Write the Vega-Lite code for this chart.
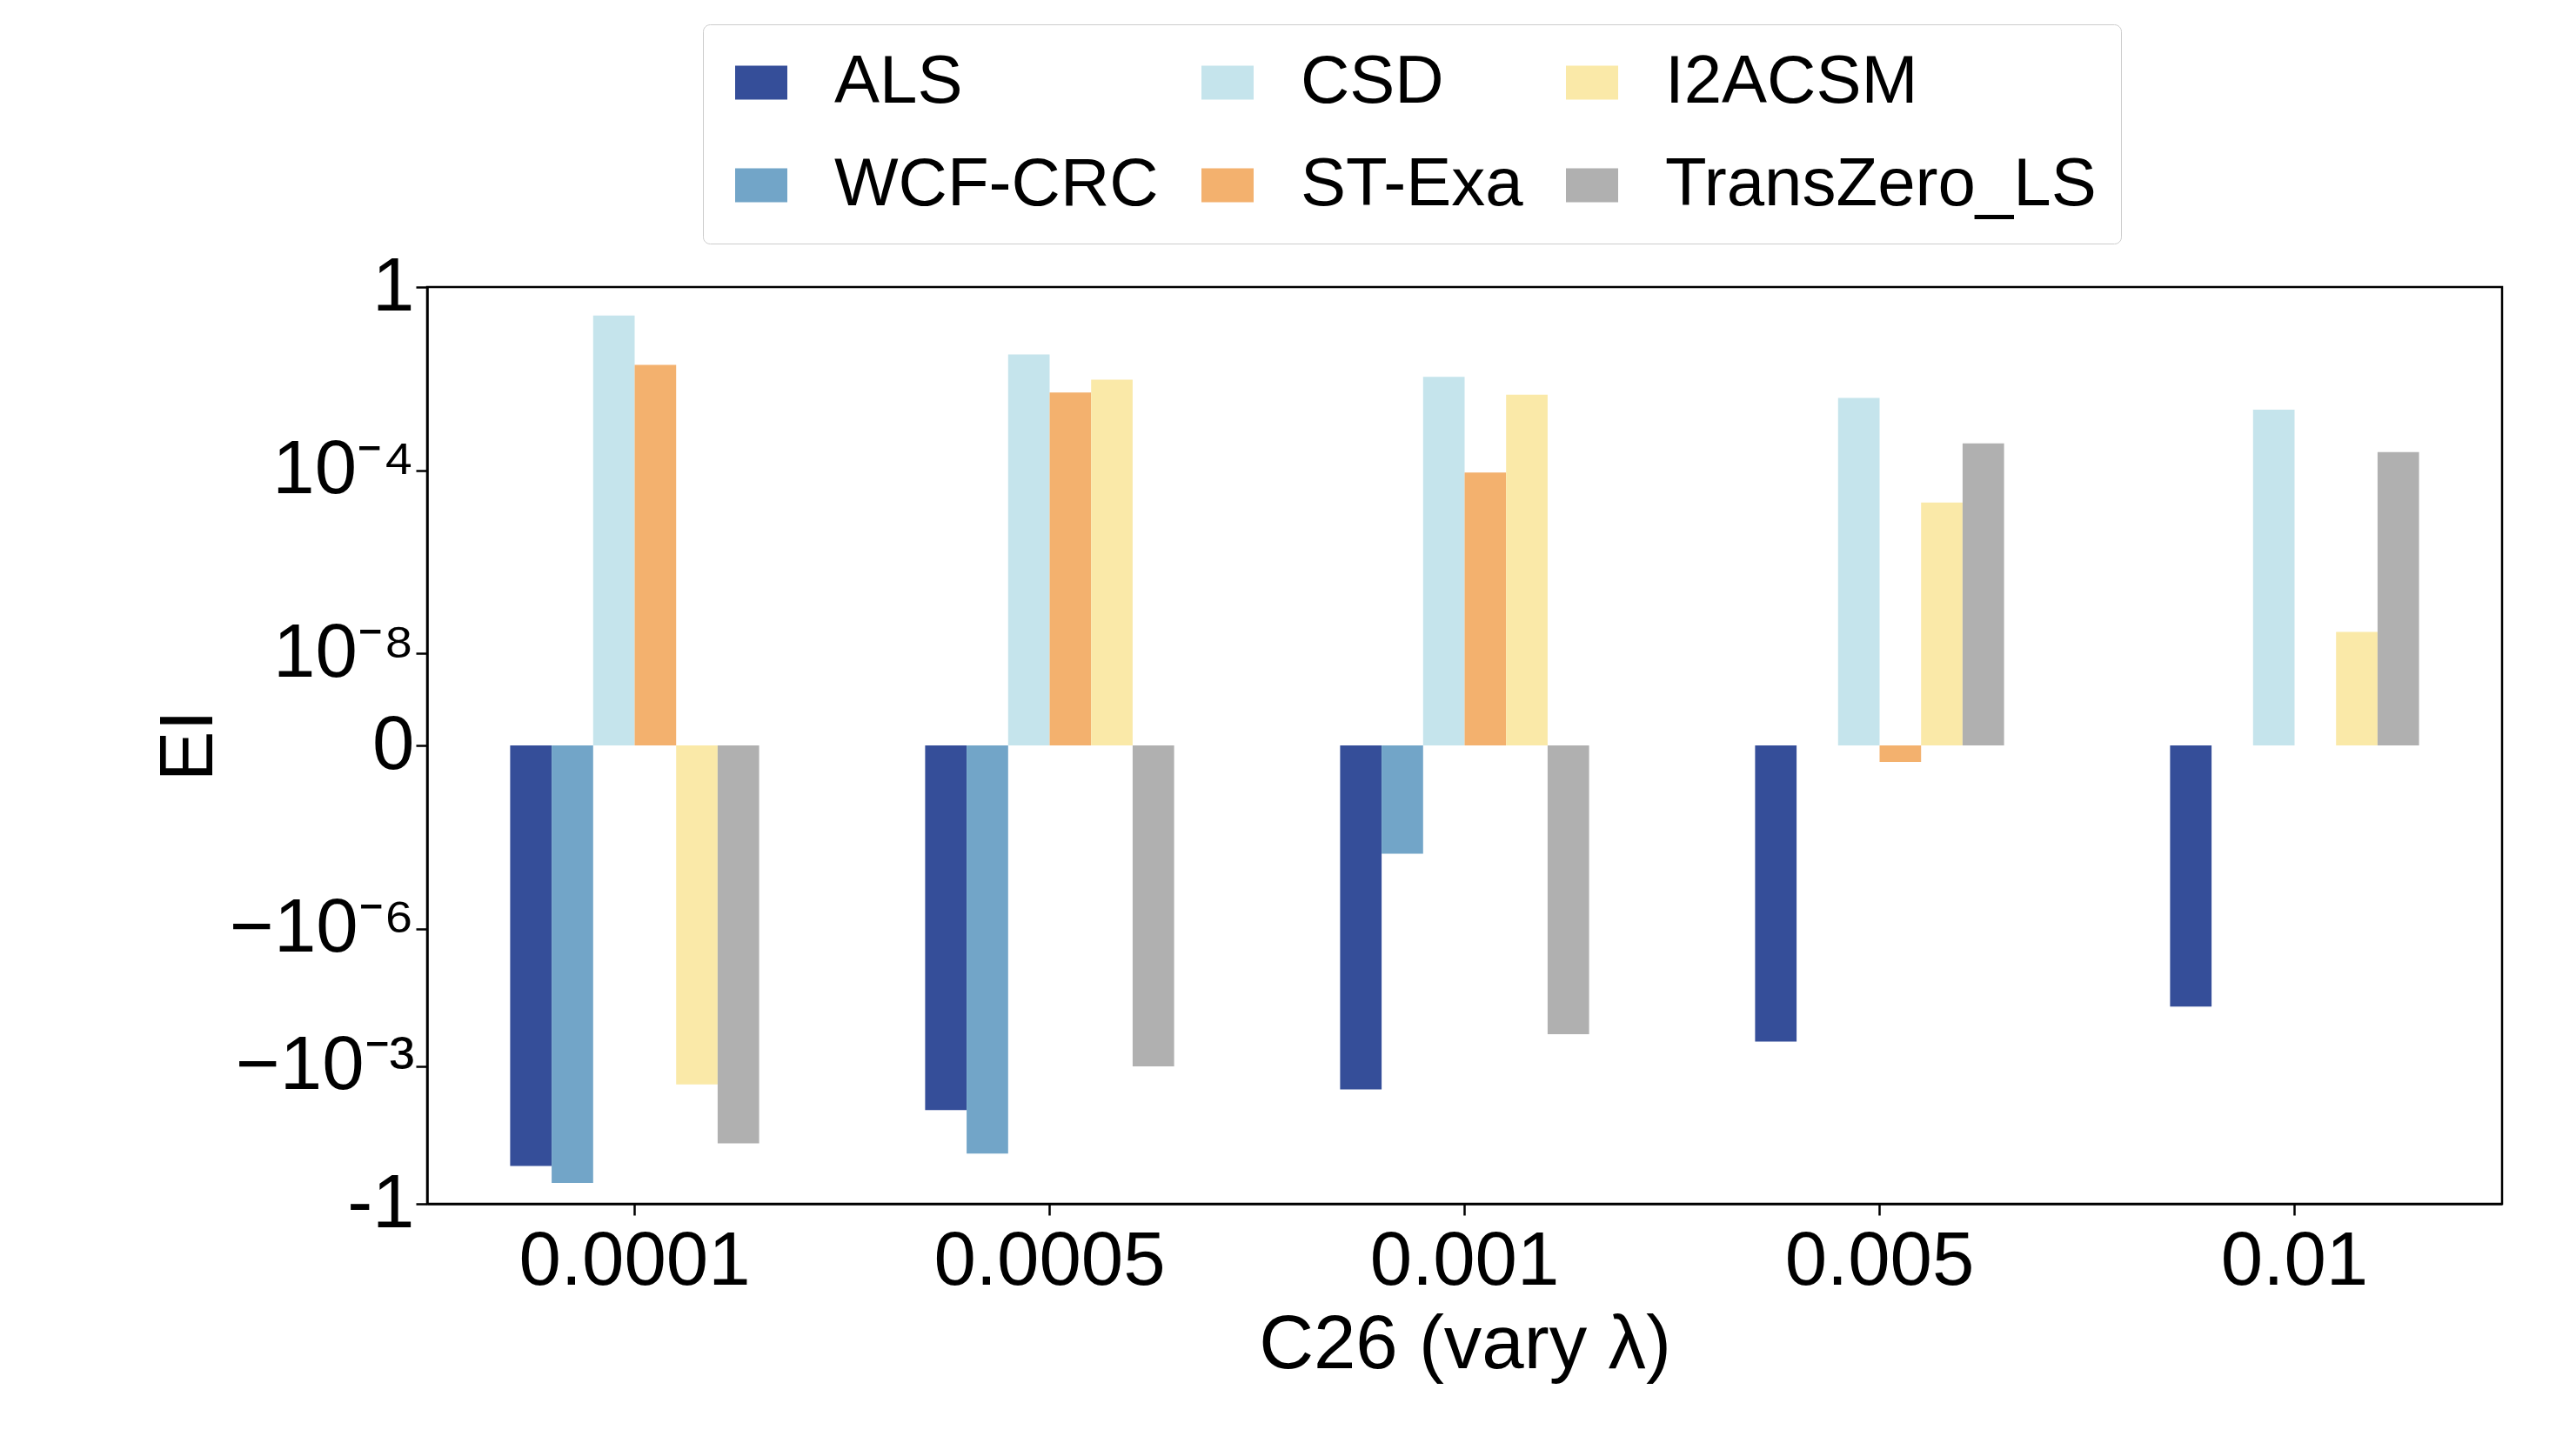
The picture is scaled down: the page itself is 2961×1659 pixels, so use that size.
{
  "$schema": "https://vega.github.io/schema/vega-lite/v6.json",
  "autosize": {"type": "none"},
  "padding": {"left": 491, "top": 330, "right": 85, "bottom": 275},
  "width": 2385,
  "height": 1054,
  "config": {
    "font": "Liberation Sans",
    "view": {"stroke": "black", "strokeWidth": 2.5},
    "axis": {"grid": false, "labelLimit": 0, "domainColor": "black", "domainWidth": 2.5, "tickColor": "black", "tickWidth": 2.5, "tickSize": 13, "labelFontSize": 87, "titleFontSize": 87, "labelColor": "black", "titleColor": "black", "titleFontWeight": "normal"}
  },
  "data": {
    "values": [
      {"lambda": "0.0001", "method": "ALS", "ei": -0.15},
      {"lambda": "0.0001", "method": "WCF-CRC", "ei": -0.35},
      {"lambda": "0.0001", "method": "CSD", "ei": 0.24},
      {"lambda": "0.0001", "method": "ST-Exa", "ei": 0.02},
      {"lambda": "0.0001", "method": "I2ACSM", "ei": -0.0025},
      {"lambda": "0.0001", "method": "TransZero_LS", "ei": -0.048},
      {"lambda": "0.0005", "method": "ALS", "ei": -0.009},
      {"lambda": "0.0005", "method": "WCF-CRC", "ei": -0.08},
      {"lambda": "0.0005", "method": "CSD", "ei": 0.034},
      {"lambda": "0.0005", "method": "ST-Exa", "ei": 0.005},
      {"lambda": "0.0005", "method": "I2ACSM", "ei": 0.0095},
      {"lambda": "0.0005", "method": "TransZero_LS", "ei": -0.001},
      {"lambda": "0.001", "method": "ALS", "ei": -0.0032},
      {"lambda": "0.001", "method": "WCF-CRC", "ei": -0.000000023},
      {"lambda": "0.001", "method": "CSD", "ei": 0.011},
      {"lambda": "0.001", "method": "ST-Exa", "ei": 0.00009},
      {"lambda": "0.001", "method": "I2ACSM", "ei": 0.0045},
      {"lambda": "0.001", "method": "TransZero_LS", "ei": -0.0002},
      {"lambda": "0.005", "method": "ALS", "ei": -0.00029},
      {"lambda": "0.005", "method": "CSD", "ei": 0.0038},
      {"lambda": "0.005", "method": "ST-Exa", "ei": -0.00000000013},
      {"lambda": "0.005", "method": "I2ACSM", "ei": 0.00002},
      {"lambda": "0.005", "method": "TransZero_LS", "ei": 0.00039},
      {"lambda": "0.01", "method": "ALS", "ei": -0.00005},
      {"lambda": "0.01", "method": "CSD", "ei": 0.0021},
      {"lambda": "0.01", "method": "I2ACSM", "ei": 0.00000003},
      {"lambda": "0.01", "method": "TransZero_LS", "ei": 0.00025}
    ]
  },
  "mark": {"type": "bar"},
  "encoding": {
    "x": {
      "field": "lambda", "type": "ordinal",
      "sort": ["0.0001", "0.0005", "0.001", "0.005", "0.01"],
      "scale": {"paddingInner": 0.4, "paddingOuter": 0.2},
      "axis": {"labelAngle": 0, "title": "C26 (vary λ)", "labelPadding": 10, "titlePadding": 10}
    },
    "xOffset": {
      "field": "method", "type": "nominal",
      "sort": ["ALS", "WCF-CRC", "CSD", "ST-Exa", "I2ACSM", "TransZero_LS"],
      "scale": {"domain": ["ALS", "WCF-CRC", "CSD", "ST-Exa", "I2ACSM", "TransZero_LS"], "paddingInner": 0}
    },
    "y": {
      "field": "ei", "type": "quantitative",
      "scale": {"type": "symlog", "constant": 1e-10, "domain": [-1, 1], "nice": false},
      "axis": {
        "title": "EI", "titlePadding": 30,
        "values": [1, 0.0001, 0.00000001, 0, -0.000001, -0.001, -1],
        "labelExpr": "datum.value == 1 ? '1' : datum.value == 0.0001 ? '10⁻⁴' : datum.value == 0.00000001 ? '10⁻⁸' : datum.value == 0 ? '0' : datum.value == -0.000001 ? '−10⁻⁶' : datum.value == -0.001 ? '−10⁻³' : '-1'"
      }
    },
    "color": {
      "field": "method", "type": "nominal",
      "scale": {
        "domain": ["ALS", "CSD", "I2ACSM", "WCF-CRC", "ST-Exa", "TransZero_LS"],
        "range": ["#354e99", "#c5e4ec", "#fae9a8", "#72a5c8", "#f3b16e", "#b0b0b0"]
      },
      "legend": {
        "title": null, "orient": "none", "legendX": 317, "legendY": -302,
        "columns": 3, "direction": "horizontal", "labelLimit": 0,
        "symbolType": "M-1,-0.65H1V0.65H-1Z", "symbolSize": 3600, "symbolStrokeWidth": 0,
        "labelFontSize": 78, "labelColor": "black", "labelOffset": 45,
        "columnPadding": 40, "rowPadding": 40, "padding": 28,
        "strokeColor": "#cccccc", "fillColor": "white", "cornerRadius": 8
      }
    }
  }
}
